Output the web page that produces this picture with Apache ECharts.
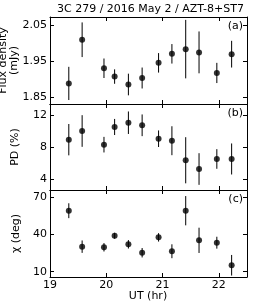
<!DOCTYPE html>
<html>
<head>
<meta charset="utf-8">
<script src="https://cdn.jsdelivr.net/npm/echarts@6/dist/echarts.min.js"></script>
<style>html,body{margin:0;padding:0;background:#fff}#c{width:274px;height:302px}</style>
</head>
<body>
<div id="c"></div>
<script>
const ut = [19.334, 19.571, 19.959, 20.148, 20.393, 20.637, 20.929, 21.166, 21.411, 21.648, 21.964, 22.227];
const flux = [1.888, 2.009, 1.930, 1.907, 1.885, 1.903, 1.945, 1.970, 1.983, 1.974, 1.917, 1.969];
const fluxErr = [0.046, 0.048, 0.027, 0.020, 0.030, 0.029, 0.027, 0.027, 0.081, 0.058, 0.028, 0.037];
const pd = [8.93, 10.01, 8.31, 10.51, 11.04, 10.72, 9.05, 8.80, 6.37, 5.28, 6.53, 6.53];
const pdErr = [1.95, 1.97, 0.97, 1.0, 1.4, 1.35, 1.03, 1.8, 2.87, 1.97, 1.22, 1.93];
const chi = [59.2, 30.2, 29.7, 39.0, 32.1, 25.3, 37.7, 26.5, 59.2, 35.3, 33.4, 15.2];
const chiErr = [6, 5, 3.4, 2.4, 3.4, 3.8, 3.4, 5.6, 11.8, 10.2, 4.8, 8.3];
const xTicks = [19, 20, 21, 22];
const fluxTicks = [1.85, 1.95, 2.05];
const pdTicks = [4, 8, 12];
const chiTicks = [10, 40, 70];
const panelLabels = ['(a)', '(b)', '(c)'];
const yNames = ['Flux density\n(mJy)', 'PD (%)', 'χ (deg)'];
const titleText = '3C 279 / 2016 May 2 / AZT-8+ST7';
const xName = 'UT (hr)';

const FONT = 'DejaVu Sans';
const grids = [
  {left: 50, top: 17, width: 197, height: 87},
  {left: 50, top: 104, width: 197, height: 86},
  {left: 50, top: 190, width: 197, height: 87}
];
const yRanges = [[1.831, 2.072], [2.67, 13.37], [5.73, 75.9]];
const yTickSets = [fluxTicks, pdTicks, chiTicks];
const yFmt = [v => v.toFixed(2), v => String(v), v => String(v)];
const vals = [flux, pd, chi];
const errs = [fluxErr, pdErr, chiErr];

const lineStyle = {color: '#000', width: 1};
const xAxes = [], yAxes = [], series = [];
grids.forEach((g, i) => {
  ['bottom', 'top'].forEach((pos, k) => {
    xAxes.push({
      type: 'value', gridIndex: i, position: pos, min: 19, max: 22.5,
      axisLine: {show: true, onZero: false, lineStyle},
      axisTick: {show: true, inside: true, length: 4, lineStyle, customValues: xTicks},
      axisLabel: {show: (i === 2 && k === 0), customValues: xTicks, color: '#000', fontFamily: FONT, fontSize: 11, margin: 3},
      splitLine: {show: false}
    });
  });
  ['left', 'right'].forEach((pos, k) => {
    yAxes.push({
      type: 'value', gridIndex: i, position: pos, min: yRanges[i][0], max: yRanges[i][1],
      axisLine: {show: true, onZero: false, lineStyle},
      axisTick: {show: true, inside: true, length: 4, lineStyle, customValues: yTickSets[i]},
      axisLabel: {show: k === 0, customValues: yTickSets[i], formatter: yFmt[i], color: '#000', fontFamily: FONT, fontSize: 11, margin: 3},
      splitLine: {show: false}
    });
  });
  const errData = ut.map((x, j) => [x, vals[i][j] - errs[i][j], vals[i][j] + errs[i][j]]);
  series.push({
    type: 'custom', xAxisIndex: 2 * i, yAxisIndex: 2 * i, data: errData, silent: true,
    renderItem: (params, api) => {
      const p1 = api.coord([api.value(0), api.value(1)]);
      const p2 = api.coord([api.value(0), api.value(2)]);
      return {type: 'line', shape: {x1: p1[0], y1: p1[1], x2: p2[0], y2: p2[1]}, style: {stroke: '#000', lineWidth: 1}};
    }
  });
  series.push({
    type: 'scatter', xAxisIndex: 2 * i, yAxisIndex: 2 * i, symbol: 'circle', symbolSize: 6,
    itemStyle: {color: '#000'}, data: ut.map((x, j) => [x, vals[i][j]]), silent: true, z: 3
  });
});

const graphic = [];
panelLabels.forEach((t, i) => {
  graphic.push({type: 'text', right: 31, top: grids[i].top + 4,
    style: {text: t, font: '11px ' + FONT, fill: '#000'}});
});
const nameX = [9, 15, 16];
yNames.forEach((t, i) => {
  graphic.push({type: 'text', x: nameX[i], y: grids[i].top + grids[i].height / 2, rotation: Math.PI / 2,
    style: {text: t, font: '11px ' + FONT, fill: '#000', align: 'center', verticalAlign: 'middle', lineHeight: 11}});
});
graphic.push({type: 'text', x: 148, y: 296,
  style: {text: xName, font: '11px ' + FONT, fill: '#000', align: 'center', verticalAlign: 'middle'}});

const chart = echarts.init(document.getElementById('c'), null, {renderer: 'canvas'});
chart.setOption({
  animation: false,
  backgroundColor: '#fff',
  title: {text: titleText, left: 57, top: 4, padding: 0, textStyle: {fontFamily: FONT, fontSize: 11, fontWeight: 'normal', color: '#000'}},
  grid: grids.map(g => Object.assign({containLabel: false}, g)),
  xAxis: xAxes,
  yAxis: yAxes,
  series,
  graphic
});
</script>
</body>
</html>
